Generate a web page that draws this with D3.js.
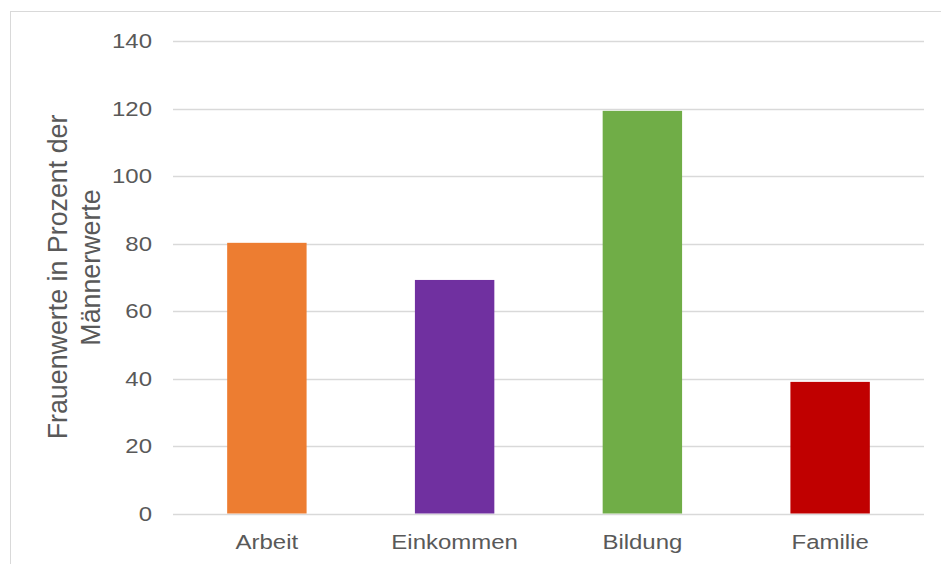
<!DOCTYPE html>
<html>
<head>
<meta charset="utf-8">
<script src="https://cdn.jsdelivr.net/npm/d3@7"></script>
<style>
  body { margin: 0; background: #fff; }
  text { font-family: "Liberation Sans", Arial, sans-serif; fill: #595959; }
</style>
</head>
<body>
<script>
const categories = ["Arbeit", "Einkommen", "Bildung", "Familie"];
const values = [80.2, 69.2, 119.3, 39.0];
const barColors = ["#ed7d31", "#7030a0", "#70ad47", "#c00000"];
const yTicks = [0, 20, 40, 60, 80, 100, 120, 140];
const yTitle = ["Frauenwerte in Prozent der", "Männerwerte"];

const width = 941;
const height = 564;
const margin = { top: 41, right: 17, bottom: 50, left: 173 };

const svg = d3.select("body")
  .append("svg")
  .attr("width", width)
  .attr("height", height);

// chart border
svg.append("rect")
  .attr("x", 10.5)
  .attr("y", 11.5)
  .attr("width", width + 10)
  .attr("height", height + 10)
  .attr("fill", "none")
  .attr("stroke", "#d9d9d9");

const x = d3.scaleBand()
  .domain(categories)
  .range([margin.left, width - margin.right])
  .paddingInner(0.577)
  .paddingOuter(0.2885);

const y = d3.scaleLinear()
  .domain([0, 140])
  .range([height - margin.bottom - 0.5, margin.top]);

// gridlines
svg.append("g")
  .selectAll("line")
  .data(yTicks)
  .join("line")
  .attr("x1", margin.left)
  .attr("x2", width - margin.right)
  .attr("y1", d => Math.round(y(d)) + 0.5)
  .attr("y2", d => Math.round(y(d)) + 0.5)
  .attr("stroke", "#d9d9d9")
  .attr("stroke-width", 1.5);

// y axis labels (font in the picture is a bit wider than Arial)
const yAxis = svg.append("g")
  .attr("transform", `translate(${margin.left - 21},0)`)
  .call(d3.axisLeft(y).tickValues(yTicks).tickSize(0).tickPadding(0));
yAxis.select(".domain").remove();
yAxis.selectAll("text")
  .attr("font-size", 20.5)
  .attr("fill", "#595959")
  .attr("font-family", "Liberation Sans, Arial, sans-serif")
  .attr("transform", "scale(1.17,1)");

// bars
svg.append("g")
  .selectAll("rect")
  .data(values)
  .join("rect")
  .attr("x", (d, i) => x(categories[i]))
  .attr("width", x.bandwidth())
  .attr("y", d => y(d))
  .attr("height", d => y(0) - y(d))
  .attr("fill", (d, i) => barColors[i]);

// x axis labels
const xAxis = svg.append("g")
  .attr("transform", `translate(0,${y(0) + 13})`)
  .call(d3.axisBottom(x).tickSize(0).tickPadding(8));
xAxis.select(".domain").remove();
xAxis.selectAll("text")
  .attr("font-size", 20.5)
  .attr("fill", "#595959")
  .attr("font-family", "Liberation Sans, Arial, sans-serif")
  .attr("transform", "scale(1.17,1)");

// y axis title, two lines
const titlePos = [[67, 277], [100, 267.5]];
svg.append("g")
  .selectAll("text")
  .data(yTitle)
  .join("text")
  .attr("transform", (d, i) => `translate(${titlePos[i][0]},${titlePos[i][1]}) rotate(-90)`)
  .attr("text-anchor", "middle")
  .attr("font-size", 26.8)
  .text(d => d);
</script>
</body>
</html>
